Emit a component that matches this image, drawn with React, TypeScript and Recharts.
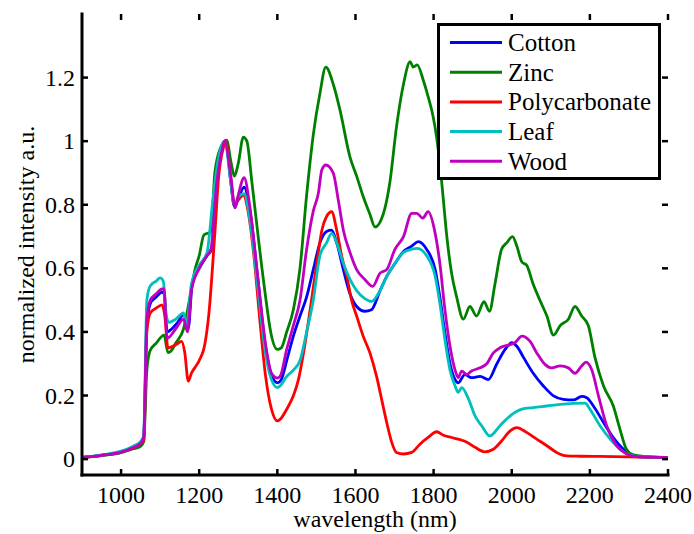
import React from 'react';
import { LineChart, Line, XAxis, YAxis, Legend } from 'recharts';

const xTicks = [1000, 1200, 1400, 1600, 1800, 2000, 2200, 2400];
const yTicks = [0, 0.2, 0.4, 0.6, 0.8, 1, 1.2];

const cottonNm = [900, 950, 1000, 1030, 1050, 1058, 1066, 1075, 1090, 1105, 1110, 1118, 1130, 1145, 1160, 1166, 1172, 1182, 1200, 1220, 1232, 1245, 1258, 1268, 1280, 1290, 1300, 1315, 1330, 1350, 1370, 1385, 1400, 1410, 1424, 1441, 1458, 1475, 1492, 1509, 1526, 1539, 1552, 1569, 1586, 1603, 1624, 1641, 1663, 1680, 1701, 1723, 1744, 1761, 1782, 1804, 1816, 1829, 1842, 1855, 1863, 1880, 1897, 1919, 1940, 1962, 1983, 2000, 2013, 2030, 2055, 2081, 2107, 2132, 2158, 2179, 2192, 2209, 2235, 2260, 2286, 2311, 2340, 2400];
const cottonVal = [0.005, 0.012, 0.022, 0.037, 0.05, 0.07, 0.42, 0.49, 0.51, 0.525, 0.52, 0.4, 0.41, 0.43, 0.455, 0.44, 0.41, 0.55, 0.6, 0.64, 0.66, 0.88, 0.98, 1.0, 0.88, 0.795, 0.82, 0.855, 0.78, 0.57, 0.35, 0.265, 0.24, 0.25, 0.31, 0.387, 0.45, 0.51, 0.596, 0.68, 0.716, 0.72, 0.68, 0.596, 0.52, 0.48, 0.465, 0.47, 0.53, 0.575, 0.615, 0.653, 0.67, 0.684, 0.66, 0.596, 0.51, 0.397, 0.3, 0.25, 0.24, 0.266, 0.256, 0.26, 0.25, 0.3, 0.345, 0.366, 0.355, 0.32, 0.27, 0.23, 0.199, 0.188, 0.186, 0.197, 0.193, 0.167, 0.115, 0.068, 0.031, 0.01, 0.006, 0.005];

const zincNm = [900, 950, 1000, 1030, 1050, 1058, 1066, 1074, 1090, 1110, 1120, 1128, 1140, 1160, 1175, 1190, 1200, 1212, 1230, 1240, 1255, 1270, 1282, 1290, 1300, 1313, 1322, 1335, 1350, 1370, 1383, 1400, 1410, 1424, 1441, 1458, 1475, 1492, 1509, 1524, 1543, 1560, 1586, 1603, 1620, 1637, 1650, 1671, 1688, 1705, 1723, 1740, 1748, 1758, 1774, 1786, 1799, 1808, 1816, 1825, 1833, 1846, 1859, 1876, 1893, 1910, 1929, 1943, 1957, 1974, 1987, 2002, 2013, 2026, 2038, 2055, 2072, 2090, 2107, 2124, 2145, 2162, 2179, 2196, 2213, 2235, 2260, 2277, 2294, 2311, 2345, 2400];
const zincVal = [0.005, 0.011, 0.02, 0.032, 0.04, 0.055, 0.28, 0.34, 0.365, 0.39, 0.335, 0.34, 0.365, 0.41, 0.5, 0.6, 0.64, 0.705, 0.715, 0.9, 0.98, 1.003, 0.93, 0.89, 0.93, 1.013, 1.0, 0.87, 0.71, 0.51, 0.4, 0.345, 0.35, 0.4, 0.47, 0.6, 0.83, 1.02, 1.15, 1.233, 1.18, 1.1, 0.95, 0.89, 0.825, 0.77, 0.73, 0.77, 0.87, 1.045, 1.18, 1.25, 1.233, 1.24, 1.19, 1.14, 1.076, 1.01, 0.93, 0.815, 0.71, 0.585, 0.51, 0.44, 0.48, 0.45, 0.495, 0.465, 0.55, 0.66, 0.68, 0.7, 0.67, 0.62, 0.61, 0.55, 0.5, 0.45, 0.39, 0.42, 0.44, 0.48, 0.45, 0.42, 0.32, 0.23, 0.167, 0.094, 0.03, 0.013, 0.008, 0.005];

const polyNm = [900, 950, 1000, 1030, 1050, 1058, 1066, 1075, 1090, 1105, 1112, 1120, 1140, 1155, 1163, 1172, 1180, 1190, 1200, 1215, 1225, 1240, 1250, 1262, 1268, 1280, 1290, 1300, 1313, 1325, 1340, 1355, 1370, 1385, 1400, 1407, 1424, 1441, 1454, 1467, 1484, 1501, 1514, 1526, 1539, 1552, 1565, 1578, 1590, 1603, 1620, 1637, 1654, 1667, 1680, 1693, 1705, 1723, 1744, 1765, 1786, 1808, 1825, 1846, 1868, 1884, 1906, 1931, 1953, 1974, 1996, 2013, 2038, 2064, 2090, 2115, 2141, 2175, 2260, 2400];
const polyVal = [0.005, 0.012, 0.022, 0.035, 0.048, 0.06, 0.4, 0.46, 0.475, 0.485, 0.45, 0.35, 0.36, 0.37, 0.335, 0.245, 0.27, 0.29, 0.31, 0.365, 0.46, 0.71, 0.89, 0.98, 1.0, 0.89, 0.8, 0.815, 0.83, 0.78, 0.64, 0.44, 0.26, 0.157, 0.12, 0.125, 0.157, 0.199, 0.25, 0.334, 0.47, 0.617, 0.72, 0.763, 0.778, 0.72, 0.637, 0.575, 0.5, 0.45, 0.386, 0.334, 0.26, 0.188, 0.115, 0.052, 0.021, 0.016, 0.021, 0.047, 0.068, 0.086, 0.075, 0.068, 0.061, 0.054, 0.037, 0.023, 0.031, 0.057, 0.089, 0.099, 0.084, 0.063, 0.042, 0.021, 0.01, 0.009, 0.008, 0.005];

const leafNm = [900, 950, 1000, 1030, 1050, 1058, 1066, 1075, 1090, 1100, 1108, 1115, 1122, 1140, 1160, 1168, 1180, 1200, 1220, 1235, 1250, 1265, 1280, 1290, 1300, 1315, 1330, 1350, 1370, 1385, 1400, 1407, 1424, 1441, 1458, 1475, 1492, 1509, 1526, 1539, 1552, 1569, 1586, 1603, 1624, 1641, 1663, 1680, 1701, 1723, 1744, 1758, 1782, 1804, 1816, 1829, 1842, 1855, 1863, 1872, 1889, 1906, 1923, 1944, 1970, 1996, 2026, 2055, 2090, 2124, 2158, 2188, 2200, 2226, 2252, 2277, 2303, 2328, 2400];
const leafVal = [0.005, 0.013, 0.025, 0.04, 0.055, 0.075, 0.5, 0.545, 0.56, 0.57, 0.56, 0.46, 0.43, 0.44, 0.46, 0.42, 0.55, 0.61, 0.65, 0.815, 0.95, 1.0, 0.88, 0.8, 0.825, 0.835, 0.75, 0.54, 0.33, 0.25, 0.225, 0.23, 0.26, 0.28, 0.31, 0.4, 0.5, 0.64, 0.68, 0.71, 0.68, 0.615, 0.565, 0.53, 0.505, 0.496, 0.53, 0.575, 0.615, 0.65, 0.66, 0.663, 0.64, 0.575, 0.49, 0.376, 0.28, 0.23, 0.21, 0.225, 0.19, 0.136, 0.105, 0.073, 0.105, 0.136, 0.157, 0.162, 0.167, 0.172, 0.175, 0.176, 0.157, 0.105, 0.063, 0.031, 0.013, 0.008, 0.005];

const woodNm = [900, 950, 1000, 1030, 1050, 1058, 1066, 1075, 1090, 1105, 1110, 1118, 1140, 1160, 1170, 1180, 1200, 1220, 1230, 1245, 1258, 1265, 1280, 1292, 1300, 1315, 1330, 1350, 1370, 1385, 1400, 1407, 1424, 1441, 1458, 1475, 1492, 1505, 1514, 1524, 1543, 1556, 1569, 1586, 1603, 1624, 1644, 1663, 1680, 1701, 1723, 1744, 1757, 1772, 1786, 1804, 1816, 1829, 1842, 1855, 1863, 1872, 1885, 1897, 1919, 1936, 1953, 1970, 1996, 2008, 2026, 2047, 2064, 2085, 2102, 2124, 2145, 2162, 2179, 2190, 2205, 2222, 2243, 2269, 2294, 2320, 2400];
const woodVal = [0.005, 0.012, 0.022, 0.036, 0.05, 0.07, 0.44, 0.5, 0.52, 0.535, 0.535, 0.38, 0.41, 0.44, 0.4, 0.53, 0.6, 0.64, 0.66, 0.87, 0.97, 1.0, 0.9, 0.79, 0.83, 0.885, 0.79, 0.57, 0.36, 0.27, 0.255, 0.26, 0.345, 0.42, 0.5, 0.66, 0.78, 0.836, 0.91, 0.925, 0.9, 0.815, 0.72, 0.65, 0.596, 0.565, 0.543, 0.585, 0.596, 0.66, 0.7, 0.773, 0.773, 0.758, 0.778, 0.71, 0.616, 0.47, 0.355, 0.28, 0.256, 0.277, 0.266, 0.277, 0.287, 0.3, 0.334, 0.35, 0.36, 0.366, 0.387, 0.37, 0.334, 0.298, 0.287, 0.293, 0.287, 0.27, 0.293, 0.305, 0.28, 0.199, 0.105, 0.042, 0.016, 0.008, 0.005];

const toData = (xs: number[], ys: number[]) => xs.map((x, i) => ({ x, v: ys[i] }));

const series = [
  { name: 'Cotton', color: '#0000FF', data: toData(cottonNm, cottonVal) },
  { name: 'Zinc', color: '#008000', data: toData(zincNm, zincVal) },
  { name: 'Polycarbonate', color: '#FF0000', data: toData(polyNm, polyVal) },
  { name: 'Leaf', color: '#00BFBF', data: toData(leafNm, leafVal) },
  { name: 'Wood', color: '#BF00BF', data: toData(woodNm, woodVal) },
];

const FONT = 'Liberation Serif';
const FS = 24;
const TICK_LEN = 6;

const CHART_W = 694;
const CHART_H = 534;
const MARGIN = { top: 14, right: 26, left: 0, bottom: 0 };
const X_AXIS_H = 59;
const Y_AXIS_W = 82;
const PLOT_W = CHART_W - MARGIN.right - MARGIN.left - Y_AXIS_W;
const PLOT_H = CHART_H - MARGIN.top - MARGIN.bottom - X_AXIS_H;

const renderLegend = () => (
  <svg width={224} height={157} style={{ display: 'block' }}>
    <rect x={1.5} y={1.5} width={221} height={154} fill="#fff" stroke="#000" strokeWidth={3} />
    {series.map((s, i) => {
      const cy = 19.5 + i * 29.7;
      return (
        <g key={s.name}>
          <line x1={13} x2={65} y1={cy} y2={cy} stroke={s.color} strokeWidth={3} />
          <text x={71} y={cy + 8.5} fontSize={25} fontFamily={FONT} fill="#000">{s.name}</text>
        </g>
      );
    })}
  </svg>
);

// bottom tick: inward mark at bottom + mirrored inward mark at top of the box
const BottomTick = (p: any) => (
  <g>
    <line x1={p.x} x2={p.x} y1={p.y} y2={p.y - TICK_LEN} stroke="#000" strokeWidth={2.5} />
    <line x1={p.x} x2={p.x} y1={p.y - PLOT_H} y2={p.y - PLOT_H + TICK_LEN} stroke="#000" strokeWidth={2.5} />
    <text x={p.x} y={p.y + 28} textAnchor="middle" fontSize={FS} fontFamily={FONT} fill="#000">{String(p.payload.value)}</text>
  </g>
);
// left tick: inward mark at left + mirrored inward mark at right side of the box
const LeftTick = (p: any) => (
  <g>
    <line x1={p.x} x2={p.x + TICK_LEN} y1={p.y} y2={p.y} stroke="#000" strokeWidth={2.5} />
    <line x1={p.x + PLOT_W} x2={p.x + PLOT_W - TICK_LEN} y1={p.y} y2={p.y} stroke="#000" strokeWidth={2.5} />
    <text x={p.x - 7} y={p.y + 8} textAnchor="end" fontSize={FS} fontFamily={FONT} fill="#000">{String(p.payload.value)}</text>
  </g>
);

export default function App() {
  const axisLine = { stroke: '#000', strokeWidth: 3, strokeLinecap: 'square' as const };
  return (
    <div style={{ position: 'absolute', left: 0, top: 0, width: CHART_W, height: CHART_H, background: '#fff', fontFamily: FONT }}>
      <LineChart width={CHART_W} height={CHART_H} margin={MARGIN} style={{ fontFamily: FONT }}>
        <XAxis
          dataKey="x"
          type="number"
          domain={[900, 2400]}
          ticks={xTicks}
          height={X_AXIS_H}
          tickSize={0}
          tickMargin={0}
          axisLine={axisLine}
          tickLine={false}
          tick={BottomTick}
          interval={0}
          allowDataOverflow
          label={{ value: 'wavelength (nm)', position: 'insideBottom', offset: 7, fill: '#000', fontSize: FS, fontFamily: FONT }}
        />
        <XAxis
          xAxisId="top"
          orientation="top"
          dataKey="x"
          type="number"
          domain={[900, 2400]}
          height={0}
          axisLine={axisLine}
          tickLine={false}
          tick={false}
          allowDataOverflow
        />
        <YAxis
          type="number"
          domain={[-0.05, 1.4]}
          ticks={yTicks}
          width={Y_AXIS_W}
          tickSize={0}
          tickMargin={0}
          axisLine={axisLine}
          tickLine={false}
          tick={LeftTick}
          interval={0}
          allowDataOverflow
          label={{ value: 'normalized intensity a.u.', angle: -90, position: 'insideLeft', offset: 25, fill: '#000', fontSize: FS, fontFamily: FONT, style: { textAnchor: 'middle' } }}
        />
        <YAxis
          yAxisId="right"
          orientation="right"
          type="number"
          domain={[-0.05, 1.4]}
          width={0}
          axisLine={axisLine}
          tickLine={false}
          tick={false}
          allowDataOverflow
        />
        {series.map((s) => (
          <Line
            key={s.name}
            data={s.data}
            dataKey="v"
            name={s.name}
            type="monotone"
            stroke={s.color}
            strokeWidth={2.8}
            dot={false}
            activeDot={false}
            isAnimationActive={false}
          />
        ))}
        <Legend
          layout="vertical"
          align="center"
          verticalAlign="middle"
          wrapperStyle={{ left: 437, top: 22.5, width: 224, height: 157 }}
          content={renderLegend}
        />
      </LineChart>
    </div>
  );
}
